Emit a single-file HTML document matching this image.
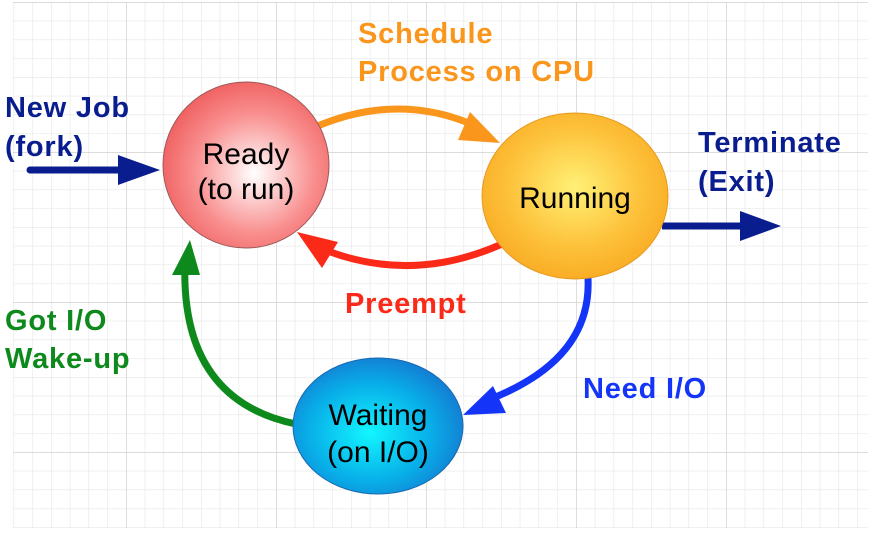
<!DOCTYPE html>
<html><head><meta charset="utf-8"><style>
body{margin:0;background:#fff}
svg{display:block}
text{font-family:"Liberation Sans",Arial,sans-serif}
</style></head><body>
<svg width="879" height="534" viewBox="0 0 879 534">
<defs>
<pattern id="g" x="126" y="2" width="18.75" height="18.75" patternUnits="userSpaceOnUse">
<path d="M0 0H18.75M0 0V18.75" stroke="#e6e6e6" stroke-width="1.2" fill="none"/>
</pattern>
<pattern id="G" x="126" y="2" width="150" height="150" patternUnits="userSpaceOnUse">
<path d="M0 0H150M0 0V150" stroke="#d2d2d2" stroke-width="1.4" fill="none"/>
</pattern>
<radialGradient id="r" cx="0.55" cy="0.55" r="0.6"><stop offset="0" stop-color="#fff"/><stop offset="0.6" stop-color="#f98f8f"/><stop offset="1" stop-color="#ef5b5b"/></radialGradient>
<radialGradient id="y" cx="0.5" cy="0.45" r="0.6"><stop offset="0" stop-color="#fff176"/><stop offset="0.6" stop-color="#fdc13a"/><stop offset="1" stop-color="#f8a820"/></radialGradient>
<radialGradient id="b" cx="0.45" cy="0.55" r="0.6"><stop offset="0" stop-color="#12f6ff"/><stop offset="0.6" stop-color="#08aee8"/><stop offset="1" stop-color="#1577d0"/></radialGradient>
</defs>
<rect x="13" y="2" width="855" height="526" fill="url(#g)"/>
<rect x="13" y="2" width="855" height="526" fill="url(#G)"/>

<path d="M313 128 Q400 90 480 128" stroke="#fb961d" stroke-width="7" fill="none"/>
<polygon points="500,143 458,140 470,112" fill="#fb961d"/>
<path d="M502 244 Q410 285 320 248" stroke="#fb2a18" stroke-width="7" fill="none"/>
<polygon points="297,232 338,242 322,268" fill="#fb2a18"/>
<path d="M588 278 Q592 360 488 400" stroke="#1434f8" stroke-width="7" fill="none"/>
<polygon points="463,415 493,386 506,413" fill="#1434f8"/>
<path d="M296 424 Q180 400 185 262" stroke="#0e8a1c" stroke-width="7" fill="none"/>
<polygon points="190,240 172,275 200,275" fill="#0e8a1c"/>
<path d="M30 170 H125" stroke="#0a1d8f" stroke-width="7" stroke-linecap="round"/>
<polygon points="160,170 118,155 118,185" fill="#0a1d8f"/>
<path d="M662 226 H745" stroke="#0a1d8f" stroke-width="7"/>
<polygon points="781,226 740,211 740,241" fill="#0a1d8f"/>

<ellipse cx="246" cy="165" rx="83" ry="83" fill="url(#r)" stroke="#9a5a5a" stroke-width="1"/>
<ellipse cx="575" cy="196" rx="93" ry="83" fill="url(#y)" stroke="#e59a20" stroke-width="1"/>
<ellipse cx="378" cy="426" rx="85" ry="68" fill="url(#b)" stroke="#1a6ab0" stroke-width="1"/>

<g font-size="30" fill="#000" text-anchor="middle">
<text x="246" y="164">Ready</text>
<text x="246" y="199">(to run)</text>
<text x="575" y="208">Running</text>
<text x="378" y="425">Waiting</text>
<text x="378" y="462">(on I/O)</text>
</g>
<g font-size="29" font-weight="bold" letter-spacing="0.8">
<text x="5" y="117" fill="#0a1d8f">New Job</text>
<text x="5" y="156" fill="#0a1d8f">(fork)</text>
<text x="358" y="43" fill="#fb961d">Schedule</text>
<text x="358" y="81" fill="#fb961d">Process on CPU</text>
<text x="698" y="152" fill="#0a1d8f">Terminate</text>
<text x="698" y="191" fill="#0a1d8f">(Exit)</text>
<text x="345" y="313" fill="#fb2a18">Preempt</text>
<text x="583" y="398" fill="#1434f8">Need I/O</text>
<text x="5" y="330" fill="#0e8a1c">Got I/O</text>
<text x="5" y="368" fill="#0e8a1c">Wake-up</text>
</g>
</svg>
</body></html>
